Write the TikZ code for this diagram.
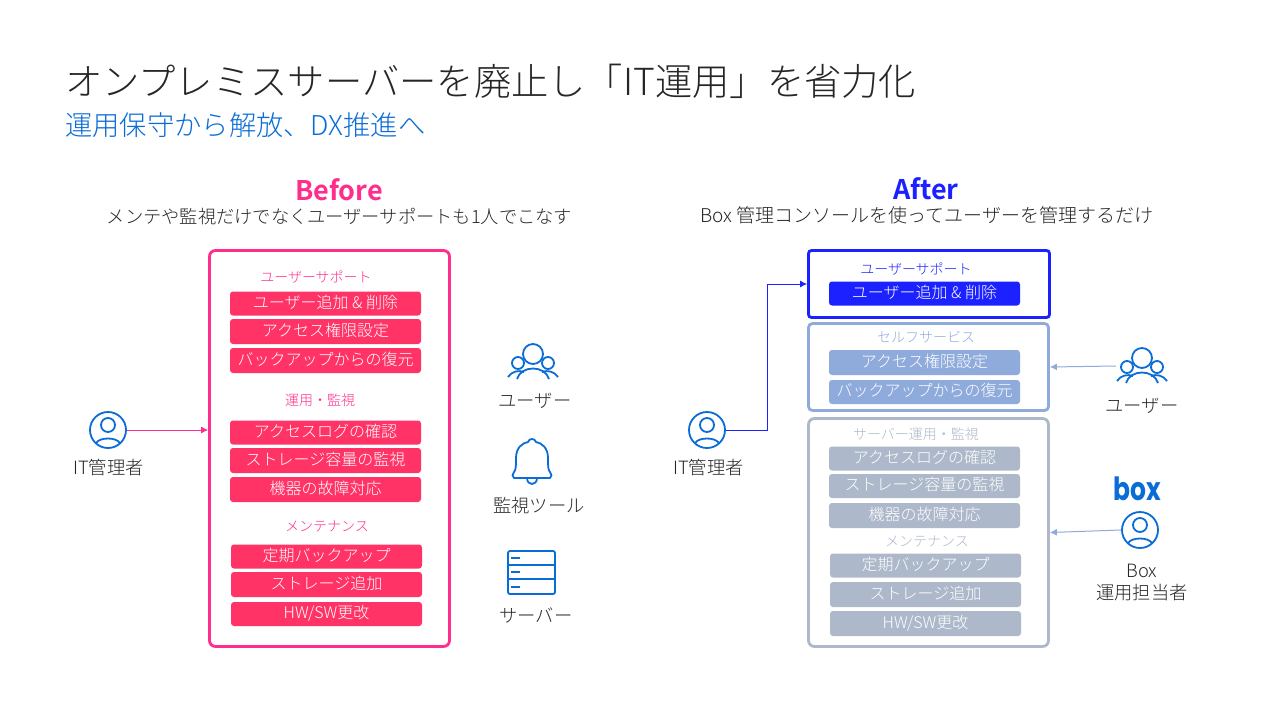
\documentclass[tikz,border=0pt]{standalone}
\usepackage{fontspec}
\setmainfont{Noto Sans CJK JP}[UprightFont=* Light,BoldFont=* Bold]
\newfontfamily\logofont{Poppins}[UprightFont=* Bold]
\usetikzlibrary{arrows.meta}
\definecolor{pinkline}{HTML}{FF2D8C}
\definecolor{pinkbar}{HTML}{FF3366}
\definecolor{bluemain}{HTML}{1C22FF}
\definecolor{bluesoft}{HTML}{8FABDC}
\definecolor{greysoft}{HTML}{ADB9CA}
\definecolor{iconblue}{HTML}{0A6CD6}
\definecolor{inktext}{HTML}{262626}
\tikzset{x=1pt,y=-1pt,
 bar/.style={rounded corners=3pt,minimum width=191pt,minimum height=24pt,inner sep=0pt,
  text=white,text height=12.5pt,text depth=3pt,font=\fontsize{16}{17}\selectfont},
 barpink/.style={bar,fill=pinkbar},
 barblue/.style={bar,fill=bluemain},
 barsoft/.style={bar,fill=bluesoft},
 bargrey/.style={bar,fill=greysoft},
 frame/.style={rounded corners=6pt,line width=2.8pt,inner sep=0pt,fill=white},
 grouplabel/.style={yshift=-.5pt,font=\fontsize{14}{15}\selectfont},
 caption/.style={yshift=-.5pt,text=inktext,font=\fontsize{18.3}{22}\selectfont,align=center},
 headline/.style={font=\fontsize{27}{28}\selectfont\bfseries},
 subline/.style={yshift=-.5pt,text=inktext,font=\fontsize{18.25}{20}\selectfont},
 link/.style={-{Latex[length=7pt,width=7pt]},line width=1pt},
 icon/.style={draw=iconblue,line width=1.8pt},
 personicon/.pic={
  \node[icon,circle,minimum size=36pt,inner sep=0pt] (-body) at (0,0) {};
  \draw[icon] (0,-5) circle (7);
  \draw[icon] (-12,13) .. controls (-8,7) and (8,7) .. (12,13);
 },
 groupicon/.pic={
  \node[minimum width=52pt,minimum height=34pt,inner sep=0pt] (-body) at (0,0) {};
  \draw[icon] (0,-8) circle (10);
  \draw[icon] (-15,1) circle (6);
  \draw[icon] (15,1) circle (6);
  \draw[icon] (-16,17) .. controls (-12,3) and (12,3) .. (16,17);
  \draw[icon] (-25,15) .. controls (-21,9) and (-14,8) .. (-9,10);
  \draw[icon] (25,15) .. controls (21,9) and (14,8) .. (9,10);
 },
 bellicon/.pic={
  \draw[icon,line join=round] (-16,16) -- (-18,16) .. controls (-20,15) and (-20,12) .. (-18,10)
   .. controls (-16,8) and (-16,4) .. (-16,-4) .. controls (-16,-14) and (-10,-19) .. (-4,-20)
   .. controls (-3,-24) and (3,-24) .. (4,-20) .. controls (10,-19) and (16,-14) .. (16,-4)
   .. controls (16,4) and (16,8) .. (18,10) .. controls (20,12) and (20,15) .. (18,16) -- cycle;
  \draw[icon] (-5,16) .. controls (-5,24) and (5,24) .. (5,16);
 },
 servericon/.pic={
  \draw[icon,rounded corners=2pt] (-24,-22) rectangle (23,21);
  \draw[icon] (-24,-8) -- (23,-8);
  \draw[icon] (-24,6) -- (23,6);
  \draw[icon] (-21,-15) -- (-12,-15);
  \draw[icon] (-21,-1) -- (-12,-1);
  \draw[icon] (-21,14) -- (-12,14);
 },
}
\begin{document}
\begin{tikzpicture}
        \useasboundingbox[fill=white] (0,0) rectangle (1280,720);
        \node[anchor=west,inner sep=0pt,text=inktext,font=\fontsize{37.3}{40}\selectfont] (title) at (65,81) {オンプレミスサーバーを廃止し「IT運用」を省力化};
        \node[anchor=west,inner sep=0pt,text=iconblue,font=\fontsize{27.3}{29}\selectfont] (subtitle) at (65,125) {運用保守から解放、DX推進へ};

        \node[headline,text=pinkline] (beforehead) at (339,190) {Before};
        \node[subline] (beforesub) at (339.5,216) {メンテや監視だけでなくユーザーサポートも1人でこなす};
        \node[headline,text=bluemain] (afterhead) at (926,189) {After};
        \node[subline,font=\fontsize{19}{20}\selectfont] (aftersub) at (927,215) {Box 管理コンソールを使ってユーザーを管理するだけ};

        \node[frame,draw=pinkline,minimum width=240pt,minimum height=396pt] (beforebox) at (329.5,448.5) {};
        \node[grouplabel,text=pinkline] (bsupport) at (316,277) {ユーザーサポート};
        \node[barpink] (badd) at (325.5,303.5) {ユーザー追加 \& 削除};
        \node[barpink,minimum height=25pt] (baccess) at (325.5,331.5) {アクセス権限設定};
        \node[barpink,minimum height=25pt] (brestore) at (325.5,360.5) {バックアップからの復元};
        \node[grouplabel,text=pinkline] (bwatch) at (320,400) {運用・監視};
        \node[barpink] (blog) at (325.5,432.5) {アクセスログの確認};
        \node[barpink,minimum height=25pt] (bstorage) at (325.5,460.5) {ストレージ容量の監視};
        \node[barpink,minimum height=25pt] (bfault) at (325.5,489.5) {機器の故障対応};
        \node[grouplabel,text=pinkline] (bmaint) at (327,526) {メンテナンス};
        \node[barpink] (bbackup) at (326.5,556.5) {定期バックアップ};
        \node[barpink,minimum height=25pt] (bgrow) at (326.5,584.5) {ストレージ追加};
        \node[barpink] (bupdate) at (326.5,614) {HW/SW更改};

        \pic (adminb) at (108,430) {personicon};
        \node[caption] (adminbtext) at (108.5,467) {IT管理者};
        \draw[link,pinkline] (adminb-body.east) -- (adminb-body.east -| beforebox.west);

        \pic (usersb) at (533,362) {groupicon};
        \node[caption] (usersbtext) at (535,400) {ユーザー};
        \pic (bell) at (532,462) {bellicon};
        \node[caption] (belltext) at (539,505) {監視ツール};
        \pic (server) at (532,573) {servericon};
        \node[caption] (servertext) at (536,615) {サーバー};

        \node[frame,draw=bluemain,rounded corners=3pt,minimum width=241pt,minimum height=67pt] (supportbox) at (929,284) {};
        \node[grouplabel,text=bluemain] (asupport) at (916,269) {ユーザーサポート};
        \node[barblue] (aadd) at (924.5,293.5) {ユーザー追加 \& 削除};

        \node[frame,draw=bluesoft,rounded corners=4pt,minimum width=240pt,minimum height=87pt] (selfbox) at (928.5,367) {};
        \node[grouplabel,text=bluesoft] (aself) at (926,337) {セルフサービス};
        \node[barsoft,minimum height=25pt] (aaccess) at (924.5,362.5) {アクセス権限設定};
        \node[barsoft] (arestore) at (924.5,392) {バックアップからの復元};

        \node[frame,draw=greysoft,minimum width=240pt,minimum height=228pt] (serverbox) at (928.5,532.5) {};
        \node[grouplabel,text=greysoft] (awatch) at (916,434) {サーバー運用・監視};
        \node[bargrey] (alog) at (924.5,458.5) {アクセスログの確認};
        \node[bargrey] (astorage) at (924.5,486) {ストレージ容量の監視};
        \node[bargrey,minimum height=25pt] (afault) at (924.5,515.5) {機器の故障対応};
        \node[grouplabel,text=greysoft] (amaint) at (927,541) {メンテナンス};
        \node[bargrey] (abackup) at (925.5,565.5) {定期バックアップ};
        \node[bargrey,minimum height=25pt] (agrow) at (925.5,594.5) {ストレージ追加};
        \node[bargrey,minimum height=25pt] (aupdate) at (925.5,623.5) {HW/SW更改};

        \pic (admina) at (707,430) {personicon};
        \node[caption] (adminatext) at (708.5,467) {IT管理者};
        \draw[link,bluemain] (admina-body.east) -- ++(42,0) |- (supportbox.west);

        \pic (usersa) at (1142,366) {groupicon};
        \node[caption] (usersatext) at (1142,405) {ユーザー};
        \draw[link,bluesoft] (usersa-body.west) -- (selfbox.east);

        \node[text=iconblue,inner sep=0pt,font=\fontsize{32}{32}\logofont] (boxlogo) at (1137,489) {\scalebox{.78}[1]{box}};
        \pic (boxadmin) at (1140,530) {personicon};
        \node[caption] (boxadmintext) at (1142,582.5) {Box\\運用担当者};
        \draw[link,bluesoft] (boxadmin-body.west) -- (serverbox.east);
    \end{tikzpicture}
\end{document}
